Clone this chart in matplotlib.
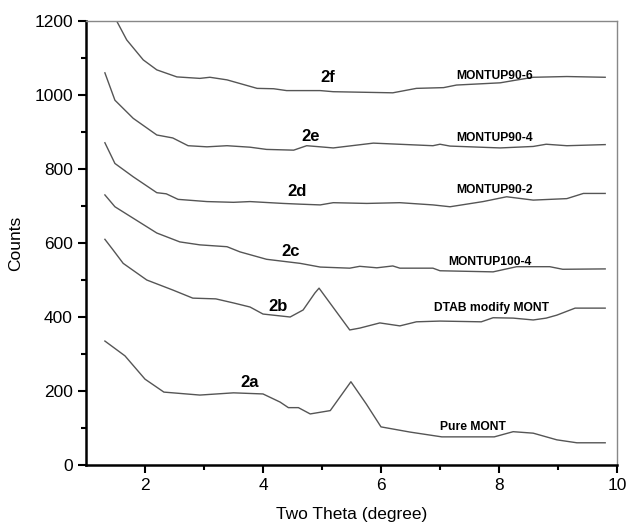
import matplotlib.pyplot as plt

plt.rcParams['font.family'] = ['Liberation Sans', 'DejaVu Sans']

# Pure MONT (2a)
x_2a = [1.32, 1.66, 2.0, 2.32, 2.93, 3.5, 4.0, 4.29, 4.43, 4.6, 4.8, 5.14, 5.49, 5.75, 6.0, 6.49,
        7.03, 7.92, 8.24, 8.58, 8.98, 9.32, 9.8]
y_2a = [335, 295, 232, 197, 189, 195, 192, 170, 155, 155, 138, 147, 225, 165, 103, 89,
        76, 76, 90, 86, 68, 60, 60]

# DTAB modify MONT (2b)
x_2b = [1.32, 1.46, 1.63, 2.03, 2.47, 2.81, 3.2, 3.5, 3.78, 4.0, 4.46, 4.68, 4.88, 4.95, 5.47,
        5.64, 5.98, 6.32, 6.6, 7.0, 7.7, 7.9, 8.24, 8.58, 8.8, 8.98, 9.29, 9.8]
y_2b = [610, 581, 545, 500, 473, 451, 449, 438, 427, 408, 400, 419, 465, 478, 365,
        370, 384, 376, 387, 389, 387, 398, 397, 392, 397, 405, 424, 424]

# MONTUP100-4 (2c)
x_2c = [1.32, 1.49, 1.8, 2.2, 2.59, 2.93, 3.39, 3.61, 4.06, 4.63, 4.97, 5.47, 5.64, 5.93, 6.2,
        6.32, 6.88, 7.0, 7.9, 8.3, 8.86, 9.08, 9.8]
y_2c = [730, 698, 667, 627, 603, 595, 590, 576, 556, 545, 535, 532, 537, 533, 538,
        532, 532, 525, 522, 536, 536, 529, 530]

# MONTUP90-2 (2d)
x_2d = [1.32, 1.49, 1.8, 2.2, 2.36, 2.56, 3.05, 3.5, 3.78, 4.34, 4.63, 4.97, 5.19, 5.76, 6.32,
        6.6, 6.88, 7.17, 7.73, 8.13, 8.58, 9.15, 9.43, 9.8]
y_2d = [871, 815, 779, 736, 733, 718, 712, 710, 712, 707, 705, 703, 709, 707, 709,
        706, 703, 698, 712, 725, 716, 720, 734, 734]

# MONTUP90-4 (2e)
x_2e = [1.32, 1.49, 1.8, 2.2, 2.47, 2.73, 3.05, 3.39, 3.78, 4.06, 4.52, 4.74, 4.97, 5.19, 5.87,
        6.88, 7.0, 7.17, 8.02, 8.58, 8.8, 9.15, 9.8]
y_2e = [1060, 986, 937, 892, 884, 863, 860, 863, 859, 853, 851, 863, 860, 857, 870,
        863, 867, 862, 857, 861, 867, 863, 866]

# MONTUP90-6 (2f)
x_2f = [1.32, 1.52, 1.69, 1.97, 2.2, 2.54, 2.93, 3.1, 3.39, 3.9, 4.18, 4.4, 4.97, 5.19, 6.2,
        6.6, 7.06, 7.28, 8.02, 8.24, 8.58, 9.15, 9.8]
y_2f = [1330, 1200, 1149, 1095, 1068, 1049, 1045, 1048, 1041, 1018, 1017, 1012, 1012, 1009, 1006,
        1018, 1020, 1027, 1033, 1039, 1048, 1050, 1048]

series = [(x_2a, y_2a), (x_2b, y_2b), (x_2c, y_2c), (x_2d, y_2d), (x_2e, y_2e), (x_2f, y_2f)]

tags = ['2a', '2b', '2c', '2d', '2e', '2f']
tag_x = [3.78, 4.26, 4.46, 4.57, 4.8, 5.1]
tag_y = [224, 428, 577, 739, 887, 1047]

names = ['Pure MONT', 'DTAB modify MONT', 'MONTUP100-4', 'MONTUP90-2', 'MONTUP90-4', 'MONTUP90-6']
name_x = [7.56, 7.88, 7.85, 7.92, 7.93, 7.93]
name_y = [104, 424, 550, 743, 883, 1051]

fig = plt.figure(figsize=(6.26, 5.26), dpi=100)
ax = fig.add_axes([0.1374, 0.116, 0.8482, 0.844])

for xs, ys in series:
    ax.plot(xs, ys, color='#555555', lw=1.0)

for t, tx, ty in zip(tags, tag_x, tag_y):
    ax.text(tx, ty, t, fontsize=12, fontweight='bold', ha='center', va='center')
for n, nx, ny in zip(names, name_x, name_y):
    ax.text(nx, ny, n, fontsize=8.7, fontweight='bold', ha='center', va='center')

ax.set_xlim(1, 10)
ax.set_ylim(0, 1200)
ax.set_xticks([2, 4, 6, 8, 10])
ax.set_xticks([3, 5, 7, 9], minor=True)
ax.set_yticks(range(0, 1201, 200))
ax.set_yticks(range(100, 1200, 200), minor=True)
ax.tick_params(which='major', direction='out', length=6, width=1.5, labelsize=12.5)
ax.tick_params(which='minor', direction='out', length=3.5, width=1.5)

for s in ['left', 'bottom']:
    ax.spines[s].set_linewidth(1.8)
for s in ['top', 'right']:
    ax.spines[s].set_color('#888888')
    ax.spines[s].set_linewidth(1.0)

ax.set_xlabel('Two Theta (degree)', fontsize=12.5, labelpad=10)
ax.set_ylabel('Counts', fontsize=12.5, labelpad=8)

fig.savefig('out.png', dpi=100)
